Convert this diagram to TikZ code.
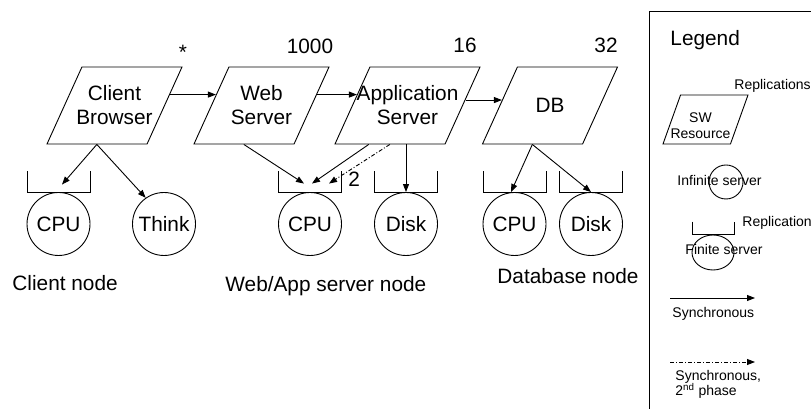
\documentclass[tikz,border=0pt]{standalone}
\usepackage{fontspec}
\setmainfont{Liberation Sans}
\usetikzlibrary{shapes.geometric,arrows.meta,calc}

\begin{document}
\begin{tikzpicture}[x=1pt, y=1pt, line width=0.9pt,
  big/.style={font=\fontsize{20.8}{24}\selectfont},
  small/.style={font=\fontsize{14}{16.5}\selectfont},
  txt/.style={anchor=base west, inner sep=0pt},
  swres/.style={trapezium, draw, trapezium left angle=65.6, trapezium right angle=114.4,
    trapezium stretches body, text height=77pt, text depth=0pt, text width=0pt,
    minimum width=135, inner sep=0pt},
  station/.style={circle, draw, minimum size=63, inner sep=0pt, big},
  call/.style={-{Triangle[length=8pt,width=6pt]}},
  phase/.style={call, dash pattern=on 4pt off 2pt on 1pt off 2pt}]
  \useasboundingbox (0,0) rectangle (811,409);
  \clip (0,0) rectangle (811,409);

  % 软件资源
  \node[swres, label={[big,align=center]center:Client\\Browser}] (cb) at (114.5,303.5) {};
  \node[swres, label={[big,align=center]center:Web\\Server}] (ws) at (261.5,303.5) {};
  \node[swres, minimum width=145, label={[big,align=center]center:Application\\Server}] (app) at (407.5,303.5) {};
  \node[swres, label={[big,align=center]center:DB}] (db) at (550,303.5) {};
  \node[big, anchor=base] (ncb)  at (183,349)   {*};
  \node[big, anchor=base] (nws)  at (310,355.5) {1000};
  \node[big, anchor=base] (napp) at (465,356)   {16};
  \node[big, anchor=base] (ndb)  at (606,356)   {32};

  % 硬件设备
  \node[station] (ccpu)  at (58.5,185) {CPU};
  \node[station] (think) at (164,185)  {Think};
  \node[station] (wcpu)  at (310,185)  {CPU};
  \node[station] (wdisk) at (406,185)  {Disk};
  \node[station] (dcpu)  at (514.5,185) {CPU};
  \node[station] (ddisk) at (591,185)  {Disk};
  \foreach \q in {ccpu,wcpu,wdisk,dcpu,ddisk}
    \draw ([shift={(-31.5,21)}]\q.north) -- ([xshift=-31.5]\q.north)
      -- ([xshift=31.5]\q.north) -- ++(0,21);
  \node[big, txt] (cnode) at (12,118)  {Client node};
  \node[big, txt] (wnode) at (225,117) {Web/App server node};
  \node[big, txt] (dnode) at (497,125) {Database node};

  % 调用
  \draw[call] ($(cb.bottom right corner)!.64!(cb.top right corner)$)
    -- ($(ws.bottom left corner)!.64!(ws.top left corner)$);
  \draw[call] ($(ws.bottom right corner)!.64!(ws.top right corner)$)
    -- ($(app.bottom left corner)!.64!(app.top left corner)$);
  \draw[call] ($(app.bottom right corner)!.57!(app.top right corner)$)
    -- ($(db.bottom left corner)!.57!(db.top left corner)$);
  \draw[call] ($(cb.bottom left corner)!.5!(cb.bottom right corner)$)
    -- ([xshift=3.5,yshift=7.5]ccpu.north);
  \draw[call] ($(cb.bottom left corner)!.5!(cb.bottom right corner)$) -- (think.125);
  \draw[call] ($(ws.bottom left corner)!.5!(ws.bottom right corner)$)
    -- ([xshift=-6,yshift=8.5]wcpu.north);
  \draw[call] ($(app.bottom left corner)!.31!(app.bottom right corner)$)
    -- ([xshift=2,yshift=8.5]wcpu.north);
  \draw[phase] ($(app.bottom left corner)!.5!(app.bottom right corner)$)
    -- ([xshift=19,yshift=8.5]wcpu.north)
    node[big, anchor=west, inner sep=0pt, xshift=19, yshift=4.5] (two) {2};
  \draw[call] (wdisk.north |- app.bottom left corner) -- (wdisk.north);
  \draw[call] ($(db.bottom left corner)!.5!(db.bottom right corner)$)
    -- ([xshift=-3.5]dcpu.north);
  \draw[call] ($(db.bottom left corner)!.5!(db.bottom right corner)$) -- (ddisk.north);

  % 图例
  \draw (649,-10) |- (840,398);
  \node[big, txt] (leg) at (670,363) {Legend};
  \node[small, txt] (rep1) at (734,319) {Replications};
  \node[swres, minimum width=85, text height=49pt, trapezium left angle=70.3,
    trapezium right angle=109.7,
    label={[small,align=center,xshift=-5,yshift=-6]center:SW\\Resource}] (sw) at (705.5,289.5) {};
  \node[circle, draw, minimum size=34, inner sep=0pt] (inf) at (726,227) {};
  \node[small, txt] (inftxt) at (677,223) {Infinite server};
  \node[ellipse, draw, minimum width=42, minimum height=35, inner sep=0pt] (fin) at (713,156.5) {};
  \draw ([shift={(-21,13)}]fin.north) -- ([xshift=-21]fin.north)
    -- ([xshift=21]fin.north) -- ++(0,13);
  \node[small, txt] (rep2) at (742,182) {Replications};
  \node[small, txt] (fintxt) at (685,154) {Finite server};
  \coordinate (s1) at (670,111);
  \coordinate (s2) at (755,111);
  \draw[call] (s1) -- (s2);
  \node[small, txt] (syntxt) at (672,91) {Synchronous};
  \coordinate (p1) at (670,47);
  \coordinate (p2) at (755,47);
  \draw[phase] (p1) -- (p2);
  \node[small, txt] (phtxt1) at (675,28) {Synchronous,};
  \node[small, txt] (phtxt2) at (675,13) {2\textsuperscript{nd} phase};
\end{tikzpicture}
\end{document}
